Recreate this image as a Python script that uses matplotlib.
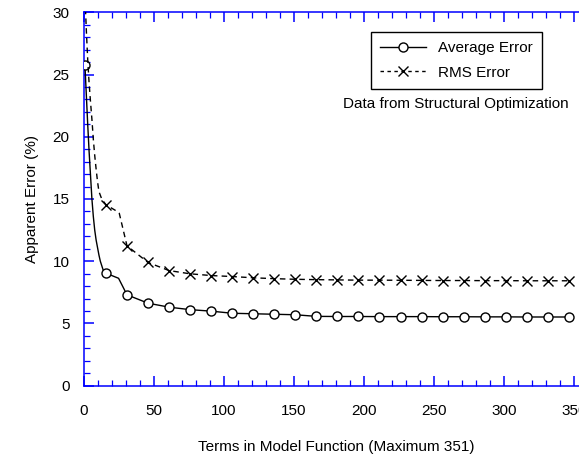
import matplotlib
matplotlib.use("Agg")
import matplotlib.pyplot as plt
from matplotlib.ticker import MultipleLocator
from matplotlib.lines import Line2D

plt.rcParams['font.family'] = ['Liberation Sans', 'DejaVu Sans']
plt.rcParams['font.size'] = 11

# ---- data ----
avg_terms = [1, 2, 3, 4, 5, 6, 7, 8, 9, 11, 12, 14, 16, 25, 31, 46, 61, 76, 91, 106,
             121, 136, 151, 166, 181, 196, 211, 226, 241, 256, 271, 286, 301, 316, 331, 346]
avg_error = [25.8, 23.4, 21.0, 18.8, 16.9, 15.0, 13.6, 12.5, 11.7, 10.5, 10.0, 9.3, 9.04, 8.63, 7.30,
             6.63, 6.31, 6.11, 5.99, 5.82, 5.78, 5.74, 5.70, 5.57, 5.56, 5.56, 5.55, 5.55, 5.55,
             5.54, 5.54, 5.53, 5.53, 5.52, 5.52, 5.52]

rms_terms = [1, 2, 3, 4, 5, 6, 7, 8, 9, 10, 11, 13, 16, 24, 25.5, 31, 46, 61, 76, 91, 106,
             121, 136, 151, 166, 181, 196, 211, 226, 241, 256, 271, 286, 301, 316, 331, 346]
rms_error = [31.5, 28.6, 26.2, 24.3, 22.8, 21.4, 19.8, 18.5, 17.4, 16.4, 15.6, 15.0, 14.54, 14.0, 13.85,
             11.24, 9.90, 9.25, 8.99, 8.85, 8.77, 8.67, 8.60, 8.55, 8.52, 8.50, 8.48, 8.48, 8.47,
             8.46, 8.45, 8.45, 8.44, 8.44, 8.43, 8.43, 8.43]

marker_terms = list(range(1, 347, 15))

x_ticks = [0, 50, 100, 150, 200, 250, 300, 350]
y_ticks = [0, 5, 10, 15, 20, 25, 30]

x_label = "Terms in Model Function (Maximum 351)"
y_label = "Apparent Error (%)"
series_names = ["Average Error", "RMS Error"]
note = "Data from Structural Optimization"

# ---- figure ----
W, H = 579, 458
fig = plt.figure(figsize=(W / 100, H / 100), dpi=100)
left, right, top, bottom = 83.5, 588.5, 12.3, 385.7
ax = fig.add_axes([left / W, (H - bottom) / H, (right - left) / W, (bottom - top) / H])

avg_mark = [i for i, t in enumerate(avg_terms) if t in marker_terms]
rms_mark = [i for i, t in enumerate(rms_terms) if t in marker_terms]

ax.plot(avg_terms, avg_error, color='black', lw=1.0, marker='o', markersize=6.5,
        markerfacecolor='white', markeredgecolor='black', markeredgewidth=1.0,
        markevery=avg_mark, zorder=3)
ax.plot(rms_terms, rms_error, color='black', lw=1.0, linestyle=(0, (4, 3)), marker='x',
        markersize=7, markeredgewidth=1.0, markevery=rms_mark, zorder=3)

ax.set_xlim(0, 360)
ax.set_ylim(0, 30)
ax.set_xticks(x_ticks)
ax.set_yticks(y_ticks)
ax.xaxis.set_minor_locator(MultipleLocator(10))
ax.yaxis.set_minor_locator(MultipleLocator(1))

blue = '#0000ff'
for s in ax.spines.values():
    s.set_color(blue)
    s.set_linewidth(1.1)
ax.tick_params(which='both', direction='in', top=True, right=True, color=blue)
ax.tick_params(which='major', length=7.2, width=1.1, pad=10)
ax.tick_params(axis='x', which='major', pad=13)
ax.tick_params(which='minor', length=4.3, width=0.9)

ax.set_xlabel(x_label, labelpad=16)
ax.set_ylabel(y_label, labelpad=10)

handles = [
    Line2D([], [], color='black', lw=1.0, marker='o', markersize=6.5,
           markerfacecolor='white', markeredgecolor='black'),
    Line2D([], [], color='black', lw=1.0, linestyle=(0, (2.5, 2.5)), marker='x',
           markersize=7),
]
leg = ax.legend(handles, series_names, loc='upper right',
                bbox_to_anchor=(542 / W, (H - 32) / H), bbox_transform=fig.transFigure,
                fancybox=False, framealpha=1, edgecolor='black', handlelength=3.0,
                handletextpad=0.8, borderpad=0.6, labelspacing=0.68, borderaxespad=0,
                fontsize=11)
leg.get_frame().set_linewidth(1.0)

fig.text(455.5 / W, (H - 104) / H, note, ha='center', va='center', fontsize=11)

fig.savefig('out.png', dpi=100)
